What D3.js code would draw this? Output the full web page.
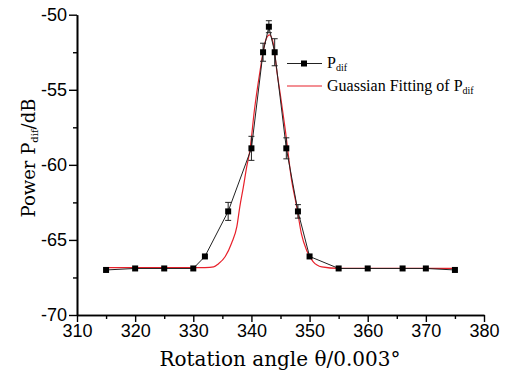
<!DOCTYPE html>
<html>
<head>
<meta charset="utf-8">
<script src="https://cdn.jsdelivr.net/npm/d3@7"></script>
<style>
body { margin: 0; background: #fff; }
</style>
</head>
<body>
<script>
var angle = [315, 320, 325, 330, 332, 336, 340, 342, 343, 344, 346, 348, 350, 355, 360, 366, 370, 375];
var power = [-67.0, -66.9, -66.9, -66.9, -66.1, -63.1, -58.9, -52.5, -50.8, -52.5, -58.9, -63.1, -66.1, -66.9, -66.9, -66.9, -66.9, -67.0];
var powerErr = [0, 0, 0, 0, 0.1, 0.6, 0.8, 0.6, 0.4, 0.9, 0.7, 0.45, 0.1, 0, 0, 0, 0, 0];

// gaussian fit curve
var fitAngle = [315, 325, 330, 332, 333.5, 334.3, 335.5, 336.6, 337.5, 338.0, 338.6, 339.2, 339.75, 340.5, 341.5, 342.3, 343.1,
                343.8, 344.35, 345.0, 345.8, 346.9, 347.8, 348.6, 349.5, 350.6, 352.1, 355, 360, 365, 370, 375];
var fitPower = [-66.85, -66.85, -66.85, -66.84, -66.8, -66.6, -66.1, -65.2, -64.1, -62.8, -61.5, -60.1, -59.0, -56.4, -53.7, -51.9, -51.35,
                -52.0, -53.7, -55.4, -57.6, -61.0, -62.8, -64.6, -65.7, -66.45, -66.8, -66.9, -66.9, -66.9, -66.9, -66.9];

var xTicks = [310, 320, 330, 340, 350, 360, 370, 380];
var xMinor = [315, 325, 335, 345, 355, 365, 375];
var yTicks = [-70, -65, -60, -55, -50];
var yMinor = [-67.5, -62.5, -57.5, -52.5];

var width = 505, height = 372;
var plotL = 77, plotR = 484, plotT = 14.7, plotB = 315;

var svg = d3.select("body").append("svg")
    .attr("width", width)
    .attr("height", height);

var x = d3.scaleLinear().domain([310, 380]).range([plotL, plotR]);
var y = d3.scaleLinear().domain([-70, -50]).range([plotB, plotT]);

var plain = function(d) { return String(d); };  // hyphen minus, like the original

// axes
svg.append("g")
    .attr("transform", "translate(0," + plotB + ")")
    .call(d3.axisBottom(x).tickValues(xTicks).tickFormat(plain).tickSize(7).tickPadding(2).tickSizeOuter(0));
svg.append("g")
    .attr("transform", "translate(0," + plotB + ")")
    .call(d3.axisBottom(x).tickValues(xMinor).tickSize(4).tickFormat("").tickSizeOuter(0));
svg.append("g")
    .attr("transform", "translate(" + plotL + ",0)")
    .call(d3.axisLeft(y).tickValues(yTicks).tickFormat(plain).tickSize(8).tickPadding(2).tickSizeOuter(0));
svg.append("g")
    .attr("transform", "translate(" + plotL + ",0)")
    .call(d3.axisLeft(y).tickValues(yMinor).tickSize(4).tickFormat("").tickSizeOuter(0));

svg.selectAll(".domain").attr("stroke", "#000").attr("stroke-width", 1.6);
svg.selectAll(".tick line").attr("stroke", "#000").attr("stroke-width", 1.4);
svg.selectAll(".tick text")
    .attr("fill", "#000")
    .style("font-family", "'Liberation Sans', Arial, sans-serif")
    .style("font-size", "18px");

// gaussian fit
var fitLine = d3.line()
    .x(function(d, i) { return x(fitAngle[i]); })
    .y(function(d, i) { return y(fitPower[i]); })
    .curve(d3.curveMonotoneX);
svg.append("path")
    .attr("d", fitLine(fitAngle))
    .attr("fill", "none")
    .attr("stroke", "#e8202a")
    .attr("stroke-width", 1.2);

// measured line
var dataLine = d3.line()
    .x(function(d, i) { return x(angle[i]); })
    .y(function(d, i) { return y(power[i]); });
svg.append("path")
    .attr("d", dataLine(angle))
    .attr("fill", "none")
    .attr("stroke", "#222")
    .attr("stroke-width", 1);

// error bars
var eb = svg.append("g").attr("stroke", "#222").attr("stroke-width", 1);
for (var i = 0; i < angle.length; i++) {
    if (powerErr[i] <= 0.15) continue;
    var cx = x(angle[i]);
    var y1 = y(power[i] + powerErr[i]), y2 = y(power[i] - powerErr[i]);
    eb.append("line").attr("x1", cx).attr("x2", cx).attr("y1", y1).attr("y2", y2);
    eb.append("line").attr("x1", cx - 3).attr("x2", cx + 3).attr("y1", y1).attr("y2", y1);
    eb.append("line").attr("x1", cx - 3).attr("x2", cx + 3).attr("y1", y2).attr("y2", y2);
}

// squares
svg.selectAll(".pt")
    .data(angle)
    .enter().append("rect")
    .attr("class", "pt")
    .attr("x", function(d) { return x(d) - 3; })
    .attr("y", function(d, i) { return y(power[i]) - 3; })
    .attr("width", 6)
    .attr("height", 6)
    .attr("fill", "#000");

// legend
var lg = svg.append("g").style("font-family", "'Liberation Serif', 'Times New Roman', serif").style("font-size", "16px");
lg.append("line").attr("x1", 287).attr("x2", 322).attr("y1", 63.5).attr("y2", 63.5).attr("stroke", "#222").attr("stroke-width", 1);
lg.append("rect").attr("x", 301).attr("y", 60.5).attr("width", 6).attr("height", 6).attr("fill", "#000");
var t1 = lg.append("text").attr("x", 327).attr("y", 68);
t1.append("tspan").text("P");
t1.append("tspan").attr("font-size", "10px").attr("dy", 3).text("dif");

lg.append("line").attr("x1", 287).attr("x2", 322).attr("y1", 86).attr("y2", 86).attr("stroke", "#e8202a").attr("stroke-width", 1.2);
var t2 = lg.append("text").attr("x", 327).attr("y", 91);
t2.append("tspan").text("Guassian Fitting of P");
t2.append("tspan").attr("font-size", "10px").attr("dy", 3).text("dif");

// axis titles
svg.append("text")
    .attr("x", 280).attr("y", 366)
    .attr("text-anchor", "middle")
    .style("font-family", "'DejaVu Serif', serif")
    .style("font-size", "20px")
    .text("Rotation angle \u03b8/0.003\u00b0");

var yt = svg.append("text")
    .attr("transform", "translate(35,158) rotate(-90)")
    .attr("text-anchor", "middle")
    .style("font-family", "'DejaVu Serif', serif")
    .style("font-size", "18px");
yt.append("tspan").text("Power P");
yt.append("tspan").attr("font-size", "10px").attr("dy", 3).text("dif");
yt.append("tspan").attr("dy", -3).text("/dB");
</script>
</body>
</html>
